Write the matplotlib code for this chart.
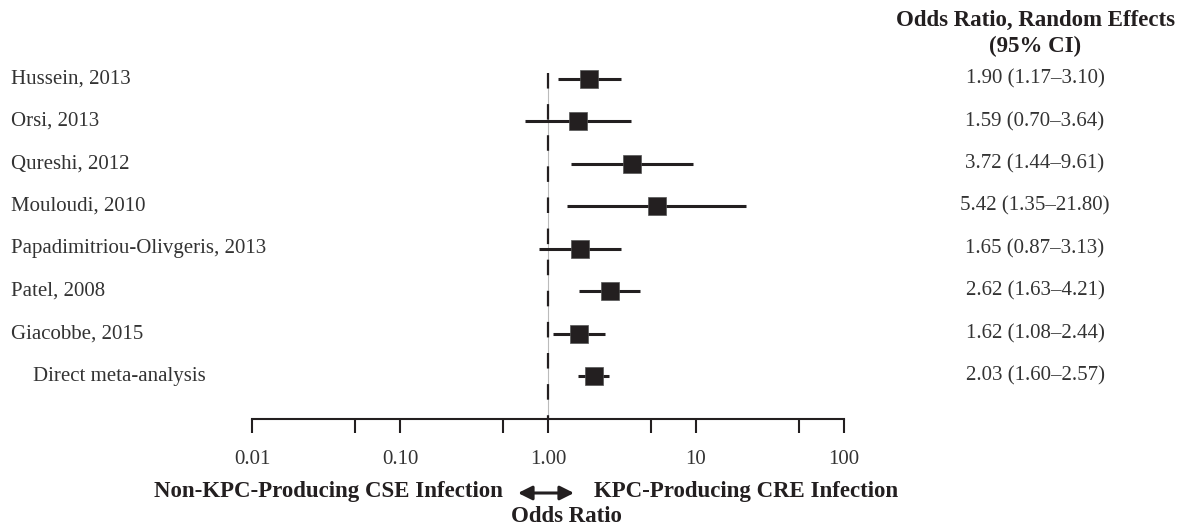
import numpy as np
import matplotlib.pyplot as plt
from matplotlib import transforms

plt.rcParams["font.family"] = ["Liberation Serif", "DejaVu Serif"]

# 数据
studies = ["Hussein, 2013", "Orsi, 2013", "Qureshi, 2012", "Mouloudi, 2010",
           "Papadimitriou-Olivgeris, 2013", "Patel, 2008", "Giacobbe, 2015",
           "Direct meta-analysis"]
odds = [1.90, 1.59, 3.72, 5.42, 1.65, 2.62, 1.62, 2.03]
ci_low = [1.17, 0.70, 1.44, 1.35, 0.87, 1.63, 1.08, 1.60]
ci_high = [3.10, 3.64, 9.61, 21.80, 3.13, 4.21, 2.44, 2.57]
major_ticks = [0.01, 0.1, 1, 10, 100]
major_labels = ["0.01", "0.10", "1.00", "10", "100"]
minor_ticks = [0.05, 0.5, 5, 50]

ink = "#231f20"
grey_txt = "#333333"
W, H = 1189, 527

fig = plt.figure(figsize=(W / 100, H / 100), dpi=100)
# 坐标轴位置 (像素换算)
ax = fig.add_axes([252 / W, (H - 419) / H, (844 - 252) / W, 419 / H])
ax.set_xscale("log")
ax.set_xlim(0.01, 100)
row0, step = 79, 42.43
ax.set_ylim((419 - row0) / step, -row0 / step)

for s in ["top", "left", "right"]:
    ax.spines[s].set_visible(False)
ax.spines["bottom"].set_linewidth(1.5)
ax.spines["bottom"].set_color(ink)
ax.set_yticks([])
ax.set_xticks(major_ticks)
ax.set_xticklabels(major_labels)
ax.set_xticks(minor_ticks, minor=True)
ax.xaxis.set_minor_formatter(plt.NullFormatter())
ax.tick_params(axis="x", which="both", direction="out", length=10, width=1.5,
               color=ink, pad=12, labelsize=15, labelcolor=grey_txt)

# 参考线 x=1
ytop = (73 - row0) / step
ybot = (419 - row0) / step
ax.plot([1, 1], [ytop, ybot], color="#bbbbbb", lw=0.8, zorder=1)
ax.plot([1, 1], [ytop, ybot], color=ink, lw=1.6, dashes=(7, 7), zorder=2)

rows = np.arange(len(studies))
ax.hlines(rows, ci_low, ci_high, color=ink, lw=2.2, zorder=3)
ax.plot(odds, rows, "s", color=ink, markersize=12.5, markeredgecolor="#555555",
        markeredgewidth=0.5, zorder=4, linestyle="none")

# 左侧研究名称 / 右侧数值
tr = transforms.blended_transform_factory(fig.transFigure, ax.transData)
for i, name in enumerate(studies):
    xpos = 33 / W if name.startswith("Direct") else 11 / W
    ax.text(xpos, i, name, transform=tr, ha="left", va="center",
            fontsize=15, color=grey_txt, clip_on=False)
    txt = "%.2f (%.2f\u2013%.2f)" % (odds[i], ci_low[i], ci_high[i])
    ax.text(1035 / W, i, txt, transform=tr, ha="center", va="center",
            fontsize=15, color=grey_txt, clip_on=False)

fig.text(1035 / W, 1 - 20 / H, "Odds Ratio, Random Effects", ha="center",
         va="center", fontsize=16.5, fontweight="bold", color=ink)
fig.text(1035 / W, 1 - 46 / H, "(95% CI)", ha="center", va="center",
         fontsize=16.5, fontweight="bold", color=ink)

# 底部说明
fig.text(503 / W, 1 - 492 / H, "Non-KPC-Producing CSE Infection", ha="right",
         va="center", fontsize=16.5, fontweight="bold", color=ink)
fig.text(594 / W, 1 - 492 / H, "KPC-Producing CRE Infection", ha="left",
         va="center", fontsize=16.5, fontweight="bold", color=ink)
fig.text(566 / W, 1 - 517 / H, "Odds Ratio", ha="center", va="center",
         fontsize=16.5, fontweight="bold", color=ink)
fig.add_artist(plt.Annotation("", xy=(518 / W, 1 - 493 / H), xytext=(574 / W, 1 - 493 / H),
                              xycoords="figure fraction", textcoords="figure fraction",
                              arrowprops=dict(arrowstyle="<|-|>", color=ink, lw=2.2,
                                              mutation_scale=21, shrinkA=0, shrinkB=0)))

fig.savefig("out.png", dpi=100)
